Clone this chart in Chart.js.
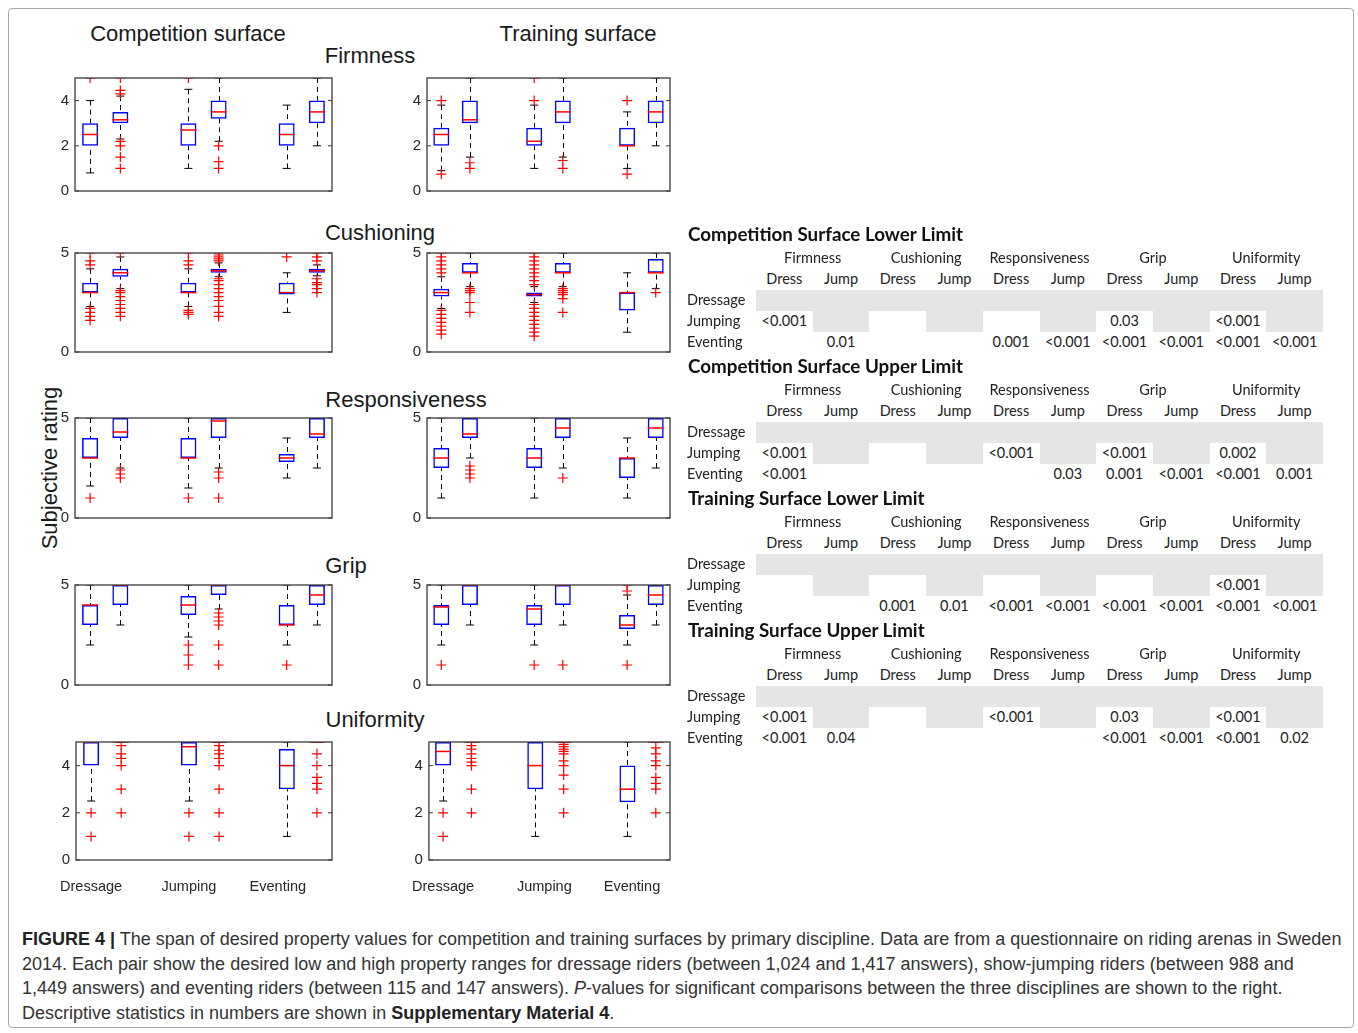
<!DOCTYPE html>
<html>
<head>
<meta charset="utf-8">
<script src="https://cdn.jsdelivr.net/npm/chart.js@4.4.0/dist/chart.umd.min.js"></script>
<style>
body { margin: 0; background: #fff; width: 1358px; height: 1033px; position: relative; overflow: hidden; font-family: "Liberation Sans", Arial, sans-serif; }
.frame { position: absolute; left: 8px; top: 8px; width: 1346px; height: 1020px; border: 1px solid #a8a8a8; border-radius: 4px; box-sizing: border-box; }
canvas { position: absolute; }
.t { position: absolute; white-space: nowrap; line-height: 1; }
.big { font-size: 22px; color: #1a1a1a; }
.tb { font-family: Lato, "Open Sans", sans-serif; font-size: 14.5px; color: #222; }
.tt { font-family: Lato, "Open Sans", sans-serif; font-size: 18.8px; font-weight: bold; color: #111; }
.gray { position: absolute; background: #e5e5e5; }
.caption { position: absolute; left: 22px; top: 927px; font-size: 18px; line-height: 24.7px; color: #333; white-space: nowrap; }
</style>
</head>
<body>
<div class="frame"></div>
<div id="stage"></div>
<div class="caption"><b style="color:#222">FIGURE 4 |</b> The span of desired property values for competition and training surfaces by primary discipline. Data are from a questionnaire on riding arenas in Sweden<br>2014. Each pair show the desired low and high property ranges for dressage riders (between 1,024 and 1,417 answers), show-jumping riders (between 988 and<br>1,449 answers) and eventing riders (between 115 and 147 answers). <i>P</i>-values for significant comparisons between the three disciplines are shown to the right.<br>Descriptive statistics in numbers are shown in <b style="color:#222">Supplementary Material 4</b>.</div>
<script>
// box order: Dressage low, Dressage high, Jumping low, Jumping high, Eventing low, Eventing high
const boxPositions = [1, 2, 4.25, 5.25, 7.5, 8.5];
const groupLabels = ['Dressage', 'Jumping', 'Eventing'];
const compTickPos = [1, 4.25, 7.2];
const trainTickPos = [1, 4.57, 7.66];

// each box: [lower whisker, q1, median, q3, upper whisker]
const compFirmness = [[0.8,2,2.5,3,4],[2.3,3,3.15,3.5,4.2],[1,2,2.7,3,4.5],[2.2,3.2,3.5,4,5],[1,2,2.5,3,3.8],[2,3,3.5,4,5]];
const compFirmnessOut = [[5],[5,4.45,4.3,2.2,2,1.5,1],[5],[2,1.3,1],[],[]];
const trainFirmness = [[0.9,2,2.5,2.8,3.8],[1.5,3,3.15,4,5],[1,2,2.2,2.8,3.8],[1.5,3,3.5,4,5],[1,2,2,2.8,3.5],[2,3,3.5,4,5]];
const trainFirmnessOut = [[4,0.75],[1.25,1],[5,4],[1.35,1],[4,0.75],[]];

const compCushioning = [[2.3,3,3,3.5,4.2],[3.2,3.8,4,4.2,4.8],[2.3,3,3,3.5,4.2],[3.8,4,4.1,4.2,4.5],[2,2.9,3,3.5,4],[3.85,4,4.1,4.2,4.4]];
const compCushioningOut = [[5,4.6,4.4,2.2,2,1.8,1.6],[5,3.1,3,2.8,2.6,2.4,2.2,2,1.8],[5,4.6,4.4,2.1,2,1.9],[5,4.9,4.8,4.7,4.6,3.7,3.6,3.4,3.2,3,2.8,2.6,2.3,2,1.8],[4.8],[5,4.8,4.6,3.7,3.5,3.4,3.2,3]];
const trainCushioning = [[2.2,2.8,3,3.2,3.8],[3.3,4,4,4.5,5],[2.5,2.8,2.9,3,3.3],[3.3,4,4,4.5,5],[1,2.1,3,3,4],[3.2,4,4,4.7,5]];
const trainCushioningOut = [[5,4.8,4.6,4.4,4.2,4,2.1,1.9,1.7,1.5,1.3,1.1,0.9],[3.2,3.1,3,2.5,2],[5,4.8,4.6,4.4,4.2,4,3.8,3.6,3.4,2.4,2.2,2,1.8,1.6,1.4,1.2,1,0.8],[3.2,3.1,3,2.9,2.7,2],[],[3]];

const compResponsiveness = [[1.6,3,3,4,5],[2.5,4,4.3,5,5],[1.5,3,3,4,5],[2.5,4,4.85,5,5],[2,2.8,3,3.2,4],[2.5,4,4.2,5,5]];
const compResponsivenessOut = [[1],[2.4,2.2,2],[1],[2.3,2,1],[],[]];
const trainResponsiveness = [[1,2.5,3,3.5,5],[3,4,4.2,5,5],[1,2.5,3,3.5,5],[2.5,4,4.5,5,5],[1,2,3,3,4],[2.5,4,4.5,5,5]];
const trainResponsivenessOut = [[],[2.6,2.4,2.2,2],[],[2],[],[]];

const compGrip = [[2,3,4,4,5],[3,4,5,5,5],[2.4,3.5,4,4.45,5],[3.8,4.5,5,5,5],[2,3,3,4,5],[3,4,4.5,5,5]];
const compGripOut = [[],[],[2,1.5,1],[3.6,3.4,3.2,3,2,1],[1],[]];
const trainGrip = [[2,3,3.9,4,5],[3,4,5,5,5],[2,3,3.8,4,5],[3,4,5,5,5],[2,2.8,3,3.5,4.5],[3,4,4.5,5,5]];
const trainGripOut = [[1],[],[1],[1],[5,4.7,1],[]];

const compUniformity = [[2.5,4,5,5,5],[5,5,5,5,5],[2.5,4,4.8,5,5],[5,5,5,5,5],[1,3,4,4.7,5],[5,5,5,5,5]];
const compUniformityOut = [[2,1],[4.85,4.5,4.3,4,3,2],[2,1],[4.85,4.65,4.5,4.3,4,3,2,1],[],[4.5,4,3.5,3.25,3,2]];
const trainUniformity = [[2.5,4,4.6,5,5],[5,5,5,5,5],[1,3,4,5,5],[5,5,5,5,5],[1,2.45,3,4,5],[5,5,5,5,5]];
const trainUniformityOut = [[2,1],[4.85,4.7,4.5,4.3,4.15,4,3,2],[],[4.9,4.8,4.7,4.6,4.5,4.2,4,3.6,3,2],[],[4.75,4.5,4.2,4,3.5,3.25,3,2]];

// p-value tables
const tableTitles = ['Competition Surface Lower Limit', 'Competition Surface Upper Limit', 'Training Surface Lower Limit', 'Training Surface Upper Limit'];
const propertyNames = ['Firmness', 'Cushioning', 'Responsiveness', 'Grip', 'Uniformity'];
const pairNames = ['Dress', 'Jump'];
const rowNames = ['Dressage', 'Jumping', 'Eventing'];
const jumpingP = [
	['<0.001','','','','','','0.03','','<0.001',''],
	['<0.001','','','','<0.001','','<0.001','','0.002',''],
	['','','','','','','','','<0.001',''],
	['<0.001','','','','<0.001','','0.03','','<0.001',''],
];
const eventingP = [
	['','0.01','','','0.001','<0.001','<0.001','<0.001','<0.001','<0.001'],
	['<0.001','','','','','0.03','0.001','<0.001','<0.001','0.001'],
	['','','0.001','0.01','<0.001','<0.001','<0.001','<0.001','<0.001','<0.001'],
	['<0.001','0.04','','','','','<0.001','<0.001','<0.001','0.02'],
];

const stage = document.getElementById('stage');

function place(text, x, y, cls, anchor) {
	const d = document.createElement('div');
	d.className = 't ' + cls;
	d.textContent = text;
	d.style.left = x + 'px';
	d.style.top = y + 'px';
	d.style.transform = anchor === 'left' ? 'translate(0,-50%)' : 'translate(-50%,-50%)';
	stage.appendChild(d);
	return d;
}

// headings
place('Competition surface', 188, 34, 'big');
place('Training surface', 578, 34, 'big');
place('Firmness', 370, 56, 'big');
place('Cushioning', 380, 233, 'big');
place('Responsiveness', 406, 400, 'big');
place('Grip', 346, 566, 'big');
place('Uniformity', 375, 720, 'big');
const ylab = place('Subjective rating', 50, 468, 'big');
ylab.style.transform = 'translate(-50%,-50%) rotate(-90deg)';

const boxPlugin = {
	id: 'boxplot',
	beforeDatasetsDraw(chart) {
		const {ctx, scales: {x, y}} = chart;
		const stats = chart.options.plugins.boxplot.stats;
		ctx.save();
		ctx.strokeStyle = '#000';
		ctx.lineWidth = 1;
		ctx.setLineDash([5, 4]);
		stats.forEach((s, i) => {
			const px = Math.round(x.getPixelForValue(boxPositions[i])) + 0.5;
			ctx.beginPath();
			ctx.moveTo(px, y.getPixelForValue(s[0]));
			ctx.lineTo(px, y.getPixelForValue(s[1]));
			ctx.moveTo(px, y.getPixelForValue(s[4]));
			ctx.lineTo(px, y.getPixelForValue(s[3]));
			ctx.stroke();
		});
		ctx.restore();
	},
	afterDraw(chart) {
		const {ctx, chartArea: a, scales: {y}} = chart;
		ctx.save();
		ctx.strokeStyle = '#3a3a3a';
		ctx.lineWidth = 1.3;
		ctx.strokeRect(a.left, a.top, a.right - a.left, a.bottom - a.top);
		ctx.lineWidth = 1;
		y.ticks.forEach(t => {
			const py = y.getPixelForValue(t.value);
			ctx.beginPath();
			ctx.moveTo(a.left, py); ctx.lineTo(a.left + 4, py);
			ctx.moveTo(a.right, py); ctx.lineTo(a.right - 4, py);
			ctx.stroke();
		});
		ctx.restore();
	}
};

const colArea = {comp: [75, 332], train: [427, 670]};
const rowArea = [[78, 191], [253, 352], [418, 518], [585, 685], [742, 860]];
const padTop = 20, padBottom = 20, padRight = 20, axisW = 35, xAxisH = 40;

const panels = [
	[compFirmness, compFirmnessOut, 'comp', 0, [0, 2, 4]],
	[trainFirmness, trainFirmnessOut, 'train', 0, [0, 2, 4]],
	[compCushioning, compCushioningOut, 'comp', 1, [0, 5]],
	[trainCushioning, trainCushioningOut, 'train', 1, [0, 5]],
	[compResponsiveness, compResponsivenessOut, 'comp', 2, [0, 5]],
	[trainResponsiveness, trainResponsivenessOut, 'train', 2, [0, 5]],
	[compGrip, compGripOut, 'comp', 3, [0, 5]],
	[trainGrip, trainGripOut, 'train', 3, [0, 5]],
	[compUniformity, compUniformityOut, 'comp', 4, [0, 2, 4]],
	[trainUniformity, trainUniformityOut, 'train', 4, [0, 2, 4]],
];

const tickFont = {family: '"Liberation Sans", Arial, sans-serif', size: 15};

panels.forEach(([stats, outs, col, row, yTicks]) => {
	const [L, R] = colArea[col];
	const [T, B] = rowArea[row];
	const bottom = row === 4;
	const canvas = document.createElement('canvas');
	canvas.width = (R - L) + axisW + padRight;
	canvas.height = (B - T) + padTop + padBottom + (bottom ? xAxisH : 0);
	canvas.style.left = (L - axisW) + 'px';
	canvas.style.top = (T - padTop) + 'px';
	stage.appendChild(canvas);

	const outPts = [];
	outs.forEach((arr, i) => arr.forEach(v => outPts.push({x: boxPositions[i], y: v})));
	const caps = [];
	stats.forEach((s, i) => { caps.push({x: boxPositions[i], y: s[0]}); caps.push({x: boxPositions[i], y: s[4]}); });
	const tickPos = col === 'comp' ? compTickPos : trainTickPos;

	new Chart(canvas, {
		type: 'bar',
		data: {
			datasets: [
				{type: 'scatter', data: outPts, pointStyle: 'cross', radius: 5, borderColor: '#ff0000', borderWidth: 1.2},
				{type: 'scatter', data: stats.map((s, i) => ({x: boxPositions[i], y: s[2]})), pointStyle: 'line', radius: 8, borderColor: '#ff0000', borderWidth: 1.5},
				{type: 'scatter', data: caps, pointStyle: 'line', radius: 4, borderColor: '#000', borderWidth: 1},
				{type: 'bar', data: stats.map((s, i) => ({x: boxPositions[i], y: [s[1], s[3]]})),
					backgroundColor: 'rgba(255,255,255,0)', borderColor: '#0000ff', borderWidth: 1.5,
					borderSkipped: false, barThickness: 16, inflateAmount: 0},
			]
		},
		options: {
			responsive: false,
			animation: false,
			events: [],
			layout: {padding: {left: 0, top: padTop, right: padRight, bottom: padBottom}},
			plugins: {legend: {display: false}, tooltip: {enabled: false}, boxplot: {stats: stats}},
			scales: {
				x: {
					type: 'linear', min: 0.5, max: 9, offset: false, display: bottom,
					grid: {display: false, drawTicks: false}, border: {display: false},
					afterBuildTicks: s => { s.ticks = tickPos.map(v => ({value: v})); },
					afterFit: s => { s.height = bottom ? xAxisH : 0; },
					ticks: {autoSkip: false, maxRotation: 0, padding: 18, color: '#262626', font: {family: tickFont.family, size: 14.5},
						callback: (v, i) => groupLabels[i]},
				},
				y: {
					type: 'linear', min: 0, max: 5,
					grid: {display: false, drawTicks: false}, border: {display: false},
					afterBuildTicks: s => { s.ticks = yTicks.map(v => ({value: v})); },
					afterFit: s => { s.width = axisW; },
					ticks: {padding: 6, color: '#262626', font: tickFont},
				}
			}
		},
		plugins: [boxPlugin]
	});
});

// tables
const colLeft = 756, colW = 56.7;
tableTitles.forEach((title, t) => {
	const base = 222 + t * 132;
	const band = document.createElement('div');
	band.className = 'gray';
	band.style.cssText = `left:${colLeft}px;top:${base + 67.5}px;width:${colW * 10}px;height:21px;`;
	stage.appendChild(band);
	for (let j = 1; j < 10; j += 2) {
		const g = document.createElement('div');
		g.className = 'gray';
		g.style.cssText = `left:${colLeft + j * colW}px;top:${base + 88.5}px;width:${colW}px;height:21px;`;
		stage.appendChild(g);
	}
	place(title, 688, base + 12, 'tt', 'left');
	propertyNames.forEach((p, k) => place(p, colLeft + (2 * k + 1) * colW, base + 36, 'tb'));
	for (let j = 0; j < 10; j++) {
		place(pairNames[j % 2], colLeft + (j + 0.5) * colW, base + 57, 'tb');
		if (jumpingP[t][j]) place(jumpingP[t][j], colLeft + (j + 0.5) * colW, base + 99, 'tb');
		if (eventingP[t][j]) place(eventingP[t][j], colLeft + (j + 0.5) * colW, base + 120, 'tb');
	}
	rowNames.forEach((r, k) => place(r, 687, base + 78 + k * 21, 'tb', 'left'));
});
</script>
</body>
</html>
